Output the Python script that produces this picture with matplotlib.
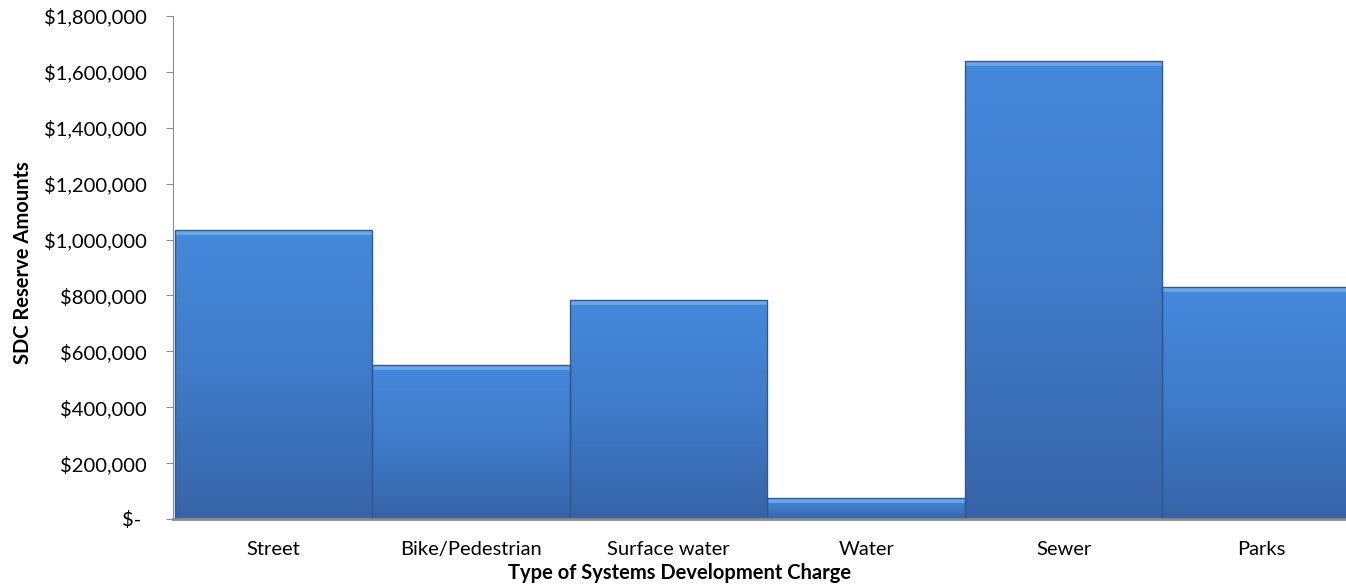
import numpy as np
import matplotlib
matplotlib.use("Agg")
from matplotlib import pyplot as plt
from matplotlib.colors import LinearSegmentedColormap
from matplotlib.ticker import FuncFormatter, MultipleLocator

# SDC reserve amounts by charge type
categories = ["Street", "Bike/Pedestrian", "Surface water", "Water", "Sewer", "Parks"]
amounts = [1034000, 550000, 784000, 75000, 1639000, 830000]

plt.rcParams["font.family"] = ["Lato", "DejaVu Sans"]

fig = plt.figure(figsize=(13.46, 5.87), dpi=100)
ax = fig.add_axes([173 / 1346, 68 / 587, 1 - 173 / 1346, 503 / 587])

x = np.arange(len(categories))
bars = ax.bar(x, amounts, width=1.0, color="none", edgecolor="#2c5a95",
              linewidth=1.0, zorder=4)

# gradient fill + light top edge, clipped to each bar
cmap = LinearSegmentedColormap.from_list("bar", ["#3764a8", "#3f7bc8", "#4589db"])
grad = np.linspace(0, 1, 256).reshape(-1, 1)
for patch in bars:
    x0 = patch.get_x()
    x1 = x0 + patch.get_width()
    h = patch.get_height()
    im = ax.imshow(grad, extent=[x0, x1, 0, h], origin="lower", aspect="auto",
                   cmap=cmap, zorder=2)
    im.set_clip_path(patch)
    top, = ax.plot([x0, x1], [h, h], color="#68a8f0", linewidth=7,
                   solid_capstyle="butt", zorder=3)
    top.set_clip_path(patch)

ax.set_xlim(-0.51, 5.43)
ax.set_ylim(0, 1800000)
ax.yaxis.set_major_locator(MultipleLocator(200000))
ax.yaxis.set_major_formatter(FuncFormatter(
    lambda v, p: "$- " if v == 0 else "${:,.0f}".format(v)))

ax.set_xticks(x)
ax.set_xticklabels(categories)

for side in ["top", "right"]:
    ax.spines[side].set_visible(False)
ax.spines["left"].set_color("#8c8c8c")
ax.spines["bottom"].set_color("#8c8c8c")
ax.spines["bottom"].set_linewidth(2)
ax.spines["bottom"].set_zorder(5)

ax.tick_params(axis="y", which="major", labelsize=14.5, length=5, color="#8c8c8c",
               pad=14)
ax.tick_params(axis="x", which="major", labelsize=14.5, length=0, pad=16)

ax.set_xlabel("Type of Systems Development Charge", fontsize=14.5,
              fontweight="bold", labelpad=0)
ax.xaxis.set_label_coords(0.432, -0.088)
ax.set_ylabel("SDC Reserve Amounts", fontsize=14.5, fontweight="bold")
ax.yaxis.set_label_coords(-0.119, 0.509)

fig.savefig("out.png", dpi=100)
